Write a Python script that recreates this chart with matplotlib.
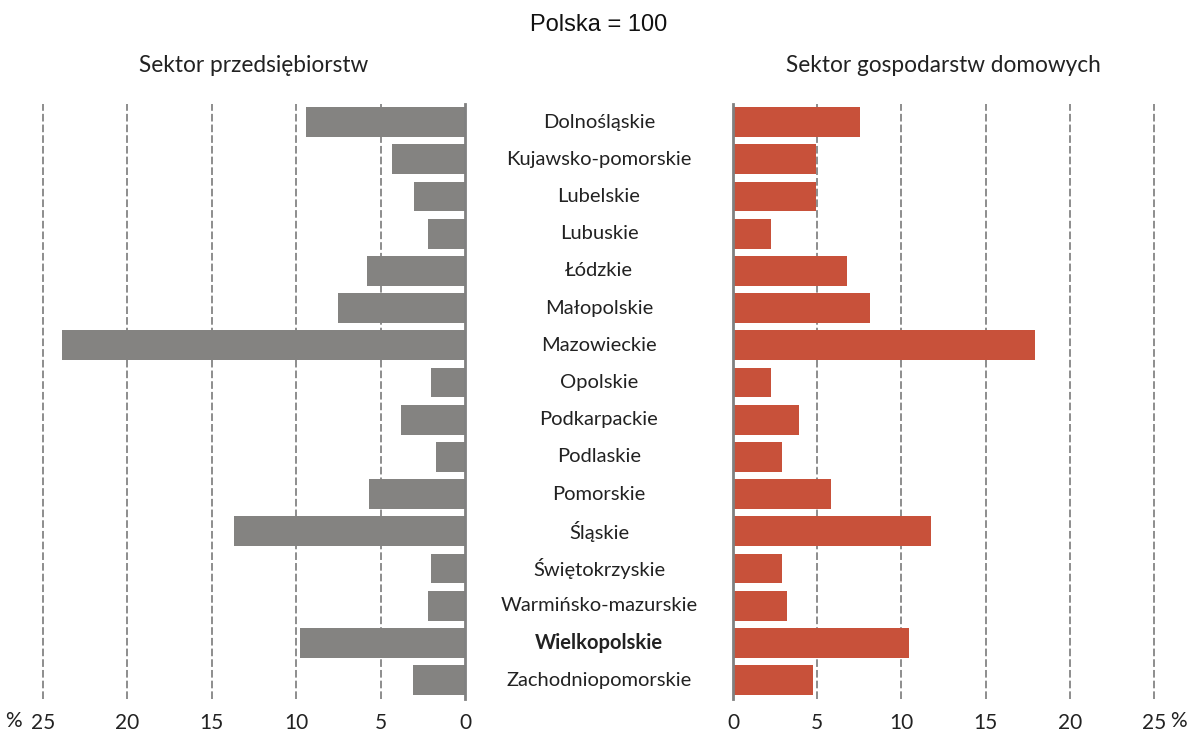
import matplotlib.pyplot as plt
import matplotlib.transforms as mtransforms

# === Data ===
regions = ["Dolnośląskie", "Kujawsko-pomorskie", "Lubelskie", "Lubuskie", "Łódzkie",
           "Małopolskie", "Mazowieckie", "Opolskie", "Podkarpackie", "Podlaskie",
           "Pomorskie", "Śląskie", "Świętokrzyskie", "Warmińsko-mazurskie",
           "Wielkopolskie", "Zachodniopomorskie"]
enterprises = [9.42, 4.32, 3.01, 2.18, 5.8, 7.52, 23.86, 2.0, 3.78, 1.71,
               5.69, 13.7, 2.0, 2.18, 9.78, 3.07]
households = [7.55, 4.93, 4.93, 2.26, 6.77, 8.14, 17.94, 2.26, 3.92, 2.91,
              5.82, 11.76, 2.91, 3.21, 10.46, 4.75]
ticks = [0, 5, 10, 15, 20, 25]

plt.rcParams['font.family'] = ['Lato', 'DejaVu Sans']

fig = plt.figure(figsize=(11.87, 7.31), dpi=100)
ax_l = fig.add_axes([43 / 1187, 0.0443, 422 / 1187, 0.814])
ax_r = fig.add_axes([733 / 1187, 0.0443, 421 / 1187, 0.814])

ypos = list(range(len(regions)))
ax_l.barh(ypos, enterprises, height=0.8, color='#848381', zorder=3)
ax_r.barh(ypos, households, height=0.8, color='#c8513a', zorder=3)

for ax in (ax_l, ax_r):
    ax.set_ylim(len(regions) - 0.5, -0.5)
    ax.set_xlim(0, 25)
    ax.set_yticks([])
    ax.set_xticks(ticks)
    ax.set_xticklabels([str(t) for t in ticks])
    ax.tick_params(axis='x', length=0, pad=10, labelsize=15, colors='#222222')
    for s in ax.spines.values():
        s.set_visible(False)
    for t in ticks[1:]:
        ax.axvline(t, color='#6f6f6f', lw=1.1, ls=(0, (5, 2)), zorder=1, clip_on=False)
    ax.axvline(0, color='#808080', lw=2, zorder=4, clip_on=False)

ax_l.invert_xaxis()

# percent signs next to the 25 labels
fig.text(13 / 1187, 1 - 721 / 731, "%", fontsize=15, ha='center', va='center', color='#222222')
fig.text(1178 / 1187, 1 - 721 / 731, "%", fontsize=15, ha='center', va='center', color='#222222')

# === Region labels in the middle ===
trans = mtransforms.blended_transform_factory(fig.transFigure, ax_l.transData)
for i, name in enumerate(regions):
    weight = 'bold' if name == "Wielkopolskie" else 'normal'
    ax_l.text(599 / 1187, i, name, transform=trans, ha='center', va='center',
              fontsize=14.5, fontweight=weight, color='#222222')

# === Headers ===
fig.text(599 / 1187, 1 - 25 / 731, "Polska = 100", ha='center', va='center',
         fontsize=17, family='Liberation Sans', color='#111111')
fig.text(254 / 1187, 1 - 65 / 731, "Sektor przedsiębiorstw", ha='center', va='center',
         fontsize=16.3, color='#222222')
fig.text(943 / 1187, 1 - 65 / 731, "Sektor gospodarstw domowych", ha='center', va='center',
         fontsize=16.3, color='#222222')

plt.savefig("out.png", dpi=100)
